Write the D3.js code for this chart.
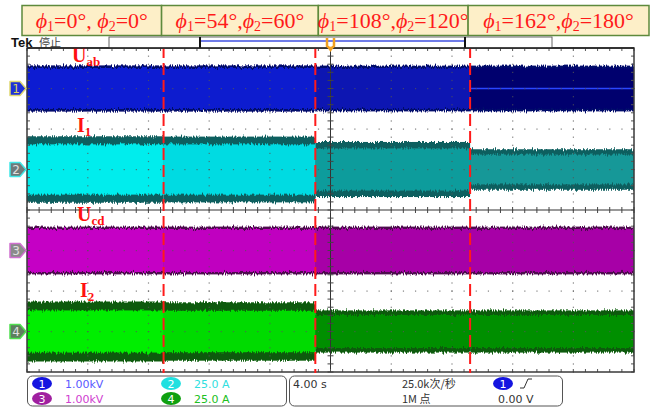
<!DOCTYPE html>
<html>
<head>
<meta charset="utf-8">
<script src="https://cdn.jsdelivr.net/npm/d3@7"></script>
<style>
  body { margin: 0; background: #fff; }
  svg { display: block; }
</style>
</head>
<body>
<svg id="chart"></svg>
<script>
// instants (s) where the phase shift changes, plus screen limits
const segTimes = [0, 9.0, 19.0, 29.2, 40];
const phi1 = [0, 54, 108, 162];
const phi2 = [0, 60, 120, 180];

// envelope of each trace per segment (peak = noise tips, core = dense part)
const uabPeak = [570, 570, 565, 565];   // V
const uabCore = [505, 505, 505, 505];
const i1Peak  = [20.5, 20.3, 17.0, 12.5]; // A
const i1Core  = [15.5, 15.5, 13.0, 9.2];
const ucdPeak = [590, 590, 590, 590];   // V
const ucdCore = [530, 530, 530, 530];
const i2Peak  = [18.5, 18.0, 13.0, 13.0]; // A
const i2Core  = [13.0, 12.8, 10.2, 10.2];

const W = 663, H = 411;
const scr = { left: 27, right: 634, top: 48, bottom: 372 };

const svg = d3.select('#chart').attr('width', W).attr('height', H);

const x = d3.scaleLinear().domain([0, 40]).range([scr.left, scr.right]);
const y = d3.scaleLinear().domain([-4, 4]).range([scr.bottom, scr.top]); // divisions

// noise filter for ragged envelope edges
const defs = svg.append('defs');
const f = defs.append('filter').attr('id', 'rag')
  .attr('x', 0).attr('y', '-30%').attr('width', '100%').attr('height', '160%');
f.append('feTurbulence').attr('type', 'fractalNoise').attr('baseFrequency', '0.9 0.08')
  .attr('numOctaves', 2).attr('seed', 7).attr('result', 't');
f.append('feColorMatrix').attr('in', 't').attr('type', 'matrix')
  .attr('values', '0 0 0 0 0.5  0 1 0 0 0  0 0 0 0 0  0 0 0 0 1').attr('result', 'm');
f.append('feDisplacementMap').attr('in', 'SourceGraphic').attr('in2', 'm')
  .attr('scale', 6).attr('xChannelSelector', 'R').attr('yChannelSelector', 'G');

const channels = [
  { id: 1, name: 'U', sub: 'ab', offset: 3, perDiv: 1000, peak: uabPeak, core: uabCore,
    fills: ['#0a1ed2', '#0a1ecf', '#0a17b2', '#00006e'], edge: '#04086a',
    mark: '#1d30d8', glow: '#e0d870', txt: '#d8d060', lab: [72, 62] },
  { id: 2, name: 'I', sub: '1', offset: 1, perDiv: 25, peak: i1Peak, core: i1Core,
    fills: ['#00eded', '#00dbe2', '#119c9c', '#129898'], edge: '#0b5f5f',
    mark: '#6e7a7a', glow: '#40e8e8', txt: '#e0e0e0', lab: [77, 132] },
  { id: 3, name: 'U', sub: 'cd', offset: -1, perDiv: 1000, peak: ucdPeak, core: ucdCore,
    fills: ['#c500c5', '#c000c0', '#a700a7', '#a700a7'], edge: '#4e0a4e',
    mark: '#8a8a8a', glow: '#d070d0', txt: '#e0e0e0', lab: [77, 221] },
  { id: 4, name: 'I', sub: '2', offset: -3, perDiv: 25, peak: i2Peak, core: i2Core,
    fills: ['#00ee00', '#00db00', '#008f00', '#008f00'], edge: '#085a08',
    mark: '#5e7e5e', glow: '#50e050', txt: '#e0e0e0', lab: [80, 297] }
];

const segs = d3.range(4).map(i => ({ i, t0: segTimes[i], t1: segTimes[i + 1] }));

// traces
channels.forEach(ch => {
  const g = svg.append('g');
  const toDiv = v => v / ch.perDiv + ch.offset;
  g.append('g').attr('filter', 'url(#rag)')
    .selectAll('rect').data(segs).join('rect')
    .attr('x', d => x(d.t0)).attr('width', d => x(d.t1) - x(d.t0))
    .attr('y', d => y(toDiv(ch.peak[d.i])))
    .attr('height', d => y(toDiv(-ch.peak[d.i])) - y(toDiv(ch.peak[d.i])))
    .attr('fill', ch.edge);
  g.append('g').attr('filter', 'url(#rag)')
    .selectAll('rect').data(segs).join('rect')
    .attr('x', d => x(d.t0)).attr('width', d => x(d.t1) - x(d.t0))
    .attr('y', d => y(toDiv(ch.core[d.i])))
    .attr('height', d => y(toDiv(-ch.core[d.i])) - y(toDiv(ch.core[d.i])))
    .attr('fill', d => ch.fills[d.i]);
  if (ch.id === 1) {
    g.append('line')
      .attr('x1', x(segTimes[3])).attr('x2', x(segTimes[4]))
      .attr('y1', y(ch.offset)).attr('y2', y(ch.offset))
      .attr('stroke', '#2a46ff').attr('stroke-width', 1.5);
  }
});

// graticule
const grid = svg.append('g');
const sub = d3.range(0, 10.001, 0.2);
const subY = d3.range(-4, 4.001, 0.2);
const xd = d3.scaleLinear().domain([0, 10]).range([scr.left, scr.right]);
[1, 2, 3, 4, 6, 7, 8, 9].forEach(k => {
  grid.selectAll(null).data(subY).join('rect')
    .attr('x', xd(k) - 0.5).attr('y', d => y(d) - 0.5).attr('width', 1.2).attr('height', 1.2)
    .attr('fill', '#555').attr('opacity', 0.75);
});
[-3, -2, -1, 1, 2, 3].forEach(k => {
  grid.selectAll(null).data(sub).join('rect')
    .attr('x', d => xd(d) - 0.5).attr('y', y(k) - 0.5).attr('width', 1.2).attr('height', 1.2)
    .attr('fill', '#555').attr('opacity', 0.75);
});
// centre cross with ticks
grid.append('line').attr('x1', scr.left).attr('x2', scr.right).attr('y1', y(0)).attr('y2', y(0))
  .attr('stroke', '#333').attr('stroke-width', 1);
grid.append('line').attr('x1', xd(5)).attr('x2', xd(5)).attr('y1', scr.top).attr('y2', scr.bottom)
  .attr('stroke', '#333').attr('stroke-width', 1);
grid.selectAll(null).data(sub).join('line')
  .attr('x1', d => xd(d)).attr('x2', d => xd(d)).attr('y1', y(0) - 3).attr('y2', y(0) + 3)
  .attr('stroke', '#444');
grid.selectAll(null).data(subY).join('line')
  .attr('x1', xd(5) - 3).attr('x2', xd(5) + 3).attr('y1', d => y(d)).attr('y2', d => y(d))
  .attr('stroke', '#444');
// edge ticks
grid.selectAll(null).data(sub).join('line')
  .attr('x1', d => xd(d)).attr('x2', d => xd(d)).attr('y1', scr.top).attr('y2', scr.top + 3)
  .attr('stroke', '#555');
grid.selectAll(null).data(sub).join('line')
  .attr('x1', d => xd(d)).attr('x2', d => xd(d)).attr('y1', scr.bottom - 3).attr('y2', scr.bottom)
  .attr('stroke', '#555');
grid.selectAll(null).data(subY).join('line')
  .attr('x1', scr.right - 3).attr('x2', scr.right).attr('y1', d => y(d)).attr('y2', d => y(d))
  .attr('stroke', '#555');
grid.selectAll(null).data(subY).join('line')
  .attr('x1', scr.left).attr('x2', scr.left + 3).attr('y1', d => y(d)).attr('y2', d => y(d))
  .attr('stroke', '#555');
grid.append('rect').attr('x', scr.left).attr('y', scr.top)
  .attr('width', scr.right - scr.left).attr('height', scr.bottom - scr.top)
  .attr('fill', 'none').attr('stroke', '#3a3a3a').attr('stroke-width', 1.5);

// phase change markers
svg.append('g').selectAll('line').data(segTimes.slice(1, 4)).join('line')
  .attr('x1', d => x(d)).attr('x2', d => x(d))
  .attr('y1', scr.top - 2).attr('y2', scr.bottom + 1)
  .attr('stroke', '#ff1a1a').attr('stroke-width', 2)
  .attr('stroke-dasharray', '12,5');

// channel labels
channels.forEach(ch => {
  const t = svg.append('text').attr('x', ch.lab[0]).attr('y', ch.lab[1])
    .attr('fill', '#ff1010').attr('font-family', 'Liberation Serif')
    .attr('font-weight', 'bold').attr('font-size', 20);
  t.append('tspan').text(ch.name);
  t.append('tspan').attr('dy', 4).attr('font-size', 13).text(ch.sub);
});

// channel markers on the left
channels.forEach(ch => {
  const c = y(ch.offset);
  const g = svg.append('g');
  g.append('path')
    .attr('d', `M10,${c - 7} L20,${c - 7} L26,${c} L20,${c + 7} L10,${c + 7} Z`)
    .attr('fill', ch.mark).attr('stroke', ch.glow).attr('stroke-width', 1.5)
    .attr('stroke-linejoin', 'round');
  g.append('text').attr('x', 16).attr('y', c + 4.5).attr('text-anchor', 'middle')
    .attr('font-family', 'DejaVu Sans').attr('font-size', 12).attr('fill', ch.txt)
    .text(ch.id);
});

// header boxes with the phase shifts
const boxEdges = segTimes.map((t, i) => i === 0 ? x(t) - 5 : i === 4 ? x(t) + 15 : x(t) + (i === 2 ? 3 : -2));
const hdr = svg.append('g');
segs.forEach(s => {
  const x0 = boxEdges[s.i], x1 = boxEdges[s.i + 1];
  hdr.append('rect').attr('x', x0).attr('y', 5.5).attr('width', x1 - x0).attr('height', 30)
    .attr('fill', '#fdefc8').attr('stroke', '#5e8a3c').attr('stroke-width', 1.5);
  const t = hdr.append('text').attr('x', (x0 + x1) / 2).attr('y', 28)
    .attr('text-anchor', 'middle').attr('fill', '#ff1a1a')
    .attr('font-family', 'Liberation Serif').attr('font-size', 22);
  const sep = s.i === 0 ? ', ' : ',';
  t.append('tspan').attr('font-style', 'italic').text('ϕ');
  t.append('tspan').attr('font-size', 14).attr('dy', 3).text('1');
  t.append('tspan').attr('dy', -3).text(`=${phi1[s.i]}°${sep}`);
  t.append('tspan').attr('font-style', 'italic').text('ϕ');
  t.append('tspan').attr('font-size', 14).attr('dy', 3).text('2');
  t.append('tspan').attr('dy', -3).text(`=${phi2[s.i]}°`);
});

// status line: Tek 停止 and record view bar
svg.append('text').attr('x', 11).attr('y', 47).attr('font-family', 'Liberation Sans')
  .attr('font-weight', 'bold').attr('font-size', 13).attr('fill', '#111').text('Tek');
svg.append('text').attr('x', 39).attr('y', 47).attr('font-family', 'Noto Sans CJK SC')
  .attr('font-size', 11).attr('fill', '#444').text('停止');
const rb = svg.append('g');
rb.append('rect').attr('x', 109).attr('y', 37).attr('width', 443).attr('height', 11)
  .attr('fill', '#fff').attr('stroke', '#666').attr('stroke-width', 1);
rb.append('line').attr('x1', 200).attr('x2', 465).attr('y1', 41).attr('y2', 41)
  .attr('stroke', '#4050e0').attr('stroke-width', 1.5);
rb.append('line').attr('x1', 200).attr('x2', 200).attr('y1', 37).attr('y2', 48)
  .attr('stroke', '#111').attr('stroke-width', 2);
rb.append('line').attr('x1', 465).attr('x2', 465).attr('y1', 37).attr('y2', 48)
  .attr('stroke', '#111').attr('stroke-width', 2);
rb.append('line').attr('x1', scr.left).attr('x2', scr.right).attr('y1', 48).attr('y2', 48)
  .attr('stroke', '#222').attr('stroke-width', 1.5);
// trigger position marker
rb.append('path').attr('d', 'M327,38 L327,46 Q330.5,50 334,46 L334,38')
  .attr('fill', 'none').attr('stroke', '#f0a020').attr('stroke-width', 2.5);
rb.append('path').attr('d', 'M327,47 L334,47 L330.5,52 Z').attr('fill', '#f0a020');

// readout panel
const bp = svg.append('g').attr('font-family', 'DejaVu Sans').attr('font-size', 11);
bp.append('rect').attr('x', 27.5).attr('y', 376).attr('width', 259).attr('height', 30).attr('rx', 5)
  .attr('fill', '#fff').attr('stroke', '#555');
bp.append('rect').attr('x', 289.5).attr('y', 376).attr('width', 273).attr('height', 30).attr('rx', 5)
  .attr('fill', '#fff').attr('stroke', '#555');
const scales = [
  { id: 1, cx: 42, cy: 383.5, fill: '#1414e0', txt: '1.00kV', col: '#5a5aff', tx: 65 },
  { id: 3, cx: 42, cy: 398.5, fill: '#a020a0', txt: '1.00kV', col: '#d040d0', tx: 65 },
  { id: 2, cx: 171, cy: 383.5, fill: '#20e0e0', txt: '25.0 A', col: '#30e0e0', tx: 194 },
  { id: 4, cx: 171, cy: 398.5, fill: '#10a010', txt: '25.0 A', col: '#20c020', tx: 194 }
];
scales.forEach(s => {
  bp.append('ellipse').attr('cx', s.cx).attr('cy', s.cy).attr('rx', 10).attr('ry', 6.5).attr('fill', s.fill);
  bp.append('text').attr('x', s.cx).attr('y', s.cy + 4).attr('text-anchor', 'middle')
    .attr('fill', '#fff').text(s.id);
  bp.append('text').attr('x', s.tx).attr('y', s.cy + 4).attr('fill', s.col).text(s.txt);
});
bp.append('text').attr('x', 293).attr('y', 387.5).attr('fill', '#333').text('4.00 s');
bp.append('text').attr('x', 402).attr('y', 387.5).attr('fill', '#333')
  .attr('font-family', 'Noto Sans CJK SC').text('25.0k次/秒');
bp.append('text').attr('x', 402).attr('y', 402.5).attr('fill', '#333')
  .attr('font-family', 'Noto Sans CJK SC').text('1M 点');
bp.append('ellipse').attr('cx', 503).attr('cy', 383.5).attr('rx', 10).attr('ry', 6.5).attr('fill', '#1414e0');
bp.append('text').attr('x', 503).attr('y', 387.5).attr('text-anchor', 'middle').attr('fill', '#fff').text('1');
bp.append('path').attr('d', 'M520,388 L524,388 L528,379 L532,379').attr('fill', 'none').attr('stroke', '#333');
bp.append('text').attr('x', 498).attr('y', 402.5).attr('fill', '#333').text('0.00 V');
</script>
</body>
</html>
